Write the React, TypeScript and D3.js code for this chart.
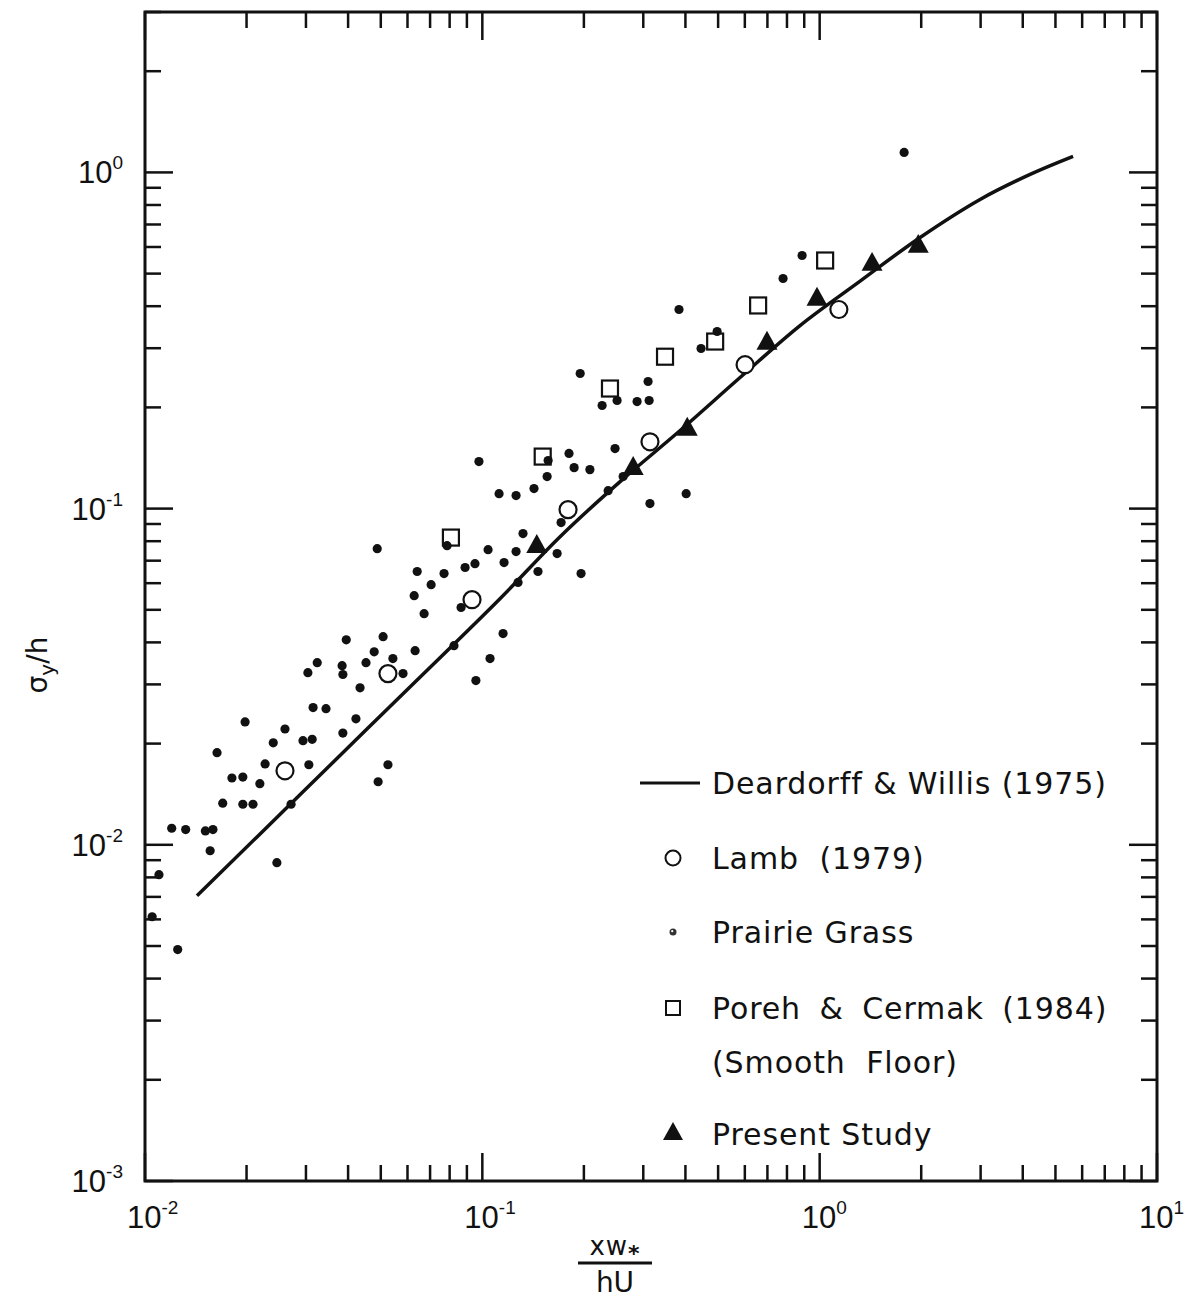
import React from 'react';
import * as d3 from 'd3';

// Deardorff & Willis (1975) curve: [xw*/hU, sigma_y/h]
const deardorffWillis: [number, number][] = [
  [0.01426, 0.00705], [0.0288, 0.01409], [0.057, 0.02757], [0.1128, 0.05395],
  [0.170, 0.0825], [0.2561, 0.1203], [0.3858, 0.1707], [0.5808, 0.2454],
  [0.8746, 0.3504], [1.318, 0.475], [1.985, 0.6405], [2.989, 0.831],
  [4.206, 0.9864], [5.64, 1.116],
];

// Lamb (1979) open circles
const lamb: [number, number][] = [
  [0.026, 0.0166], [0.0525, 0.0323], [0.0932, 0.0536], [0.1795, 0.0993],
  [0.314, 0.158], [0.601, 0.268], [1.14, 0.391],
];

// Poreh & Cermak (1984) squares
const poreh: [number, number][] = [
  [0.0807, 0.082], [0.151, 0.1428], [0.239, 0.2276], [0.348, 0.283],
  [0.49, 0.314], [0.657, 0.402], [1.038, 0.547],
];

// Present Study triangles
const present: [number, number][] = [
  [0.145, 0.0771], [0.28, 0.1315], [0.405, 0.172], [0.698, 0.31],
  [0.982, 0.419], [1.43, 0.532], [1.96, 0.602],
];

// Prairie Grass dots
const prairieGrass: [number, number][] = [
  [0.0324, 0.0348], [0.0304, 0.0325], [0.0384, 0.0341], [0.0386, 0.0321],
  [0.0452, 0.0348], [0.0543, 0.0358], [0.0478, 0.0375], [0.0632, 0.0378],
  [0.0582, 0.0323], [0.0434, 0.0293], [0.0315, 0.0256], [0.0344, 0.0254],
  [0.0422, 0.0237], [0.0198, 0.0232], [0.026, 0.0221], [0.024, 0.0201],
  [0.0294, 0.0204], [0.0313, 0.0206], [0.0386, 0.0215], [0.01635, 0.0188],
  [0.0227, 0.0174], [0.0306, 0.0173], [0.0181, 0.0158], [0.0195, 0.0159],
  [0.0219, 0.0152], [0.0525, 0.0173], [0.0491, 0.0154], [0.017, 0.0133],
  [0.0195, 0.0132], [0.0209, 0.0132], [0.0271, 0.0132], [0.012, 0.0112],
  [0.0132, 0.0111], [0.0151, 0.011], [0.0159, 0.0111], [0.0156, 0.0096],
  [0.0246, 0.00885], [0.011, 0.00815], [0.0105, 0.00611], [0.0125, 0.00488],
  [0.0395, 0.0407], [0.0508, 0.0416], [0.0824, 0.0391], [0.1152, 0.0425],
  [0.1054, 0.0358], [0.0957, 0.0308], [0.0672, 0.0487], [0.0865, 0.0508],
  [0.0628, 0.0551], [0.0705, 0.0594], [0.0641, 0.065], [0.077, 0.0641],
  [0.0488, 0.076], [0.0786, 0.0776], [0.0889, 0.0668], [0.0951, 0.0686],
  [0.104, 0.0755], [0.116, 0.0691], [0.1276, 0.0603], [0.1259, 0.0745],
  [0.132, 0.0843], [0.1462, 0.065], [0.1666, 0.0735], [0.1962, 0.0641],
  [0.1712, 0.0909], [0.0977, 0.138], [0.1121, 0.1108], [0.1259, 0.1093],
  [0.1423, 0.1147], [0.1556, 0.1245], [0.1567, 0.139], [0.1807, 0.1459],
  [0.1871, 0.1324], [0.2084, 0.1306], [0.2474, 0.1509], [0.236, 0.1131],
  [0.2615, 0.1245], [0.314, 0.1035], [0.2265, 0.2026], [0.2509, 0.2097],
  [0.2876, 0.2082], [0.3122, 0.2097], [0.31, 0.2388], [0.195, 0.2523],
  [0.3828, 0.391], [0.445, 0.2994], [0.4966, 0.3364], [0.779, 0.4836],
  [0.887, 0.566], [0.402, 0.1108], [1.78, 1.147],
];

const xDecades = [-2, -1, 0, 1];
const yDecades = [-3, -2, -1, 0];
const legendLabels = [
  'Deardorff & Willis (1975)',
  'Lamb (1979)',
  'Prairie Grass',
  'Poreh & Cermak (1984)',
  '(Smooth Floor)',
  'Present Study',
];
const legendWordSpacing = [0, 10, 0, 8, 10, 0];

const FONT = 'DejaVu Sans, sans-serif';
const TICKFONT = 'Liberation Sans, Arial, sans-serif';

export default function App() {
  const W = 1186, H = 1300;
  const left = 145, right = 1157, top = 12, bottom = 1181;
  const x = d3.scaleLog().domain([1e-2, 1e1]).range([left, right]);
  const y = d3.scaleLog().domain([1e-3, 3]).range([bottom, top]);

  const ticks = (dom: number[], decs: number[]) => {
    const out: { v: number; major: boolean }[] = [];
    for (let e = decs[0]; e <= decs[decs.length - 1]; e++) {
      for (let k = 1; k <= 9; k++) {
        const v = k * Math.pow(10, e);
        if (v >= dom[0] * 0.999 && v <= dom[1] * 1.001) out.push({ v, major: k === 1 });
      }
    }
    return out;
  };
  const xt = ticks(x.domain(), xDecades);
  const yt = ticks(y.domain(), yDecades);
  const MAJ = 28, MIN = 16;

  const line = d3.line<[number, number]>()
    .x((d) => x(d[0]))
    .y((d) => y(d[1]))
    .curve(d3.curveCatmullRom.alpha(0.5));

  const tri = (cx: number, cy: number, s: number) => {
    const h = s * 0.9;
    return `M${cx},${cy - (2 * h) / 3}L${cx + s / 2},${cy + h / 3}L${cx - s / 2},${cy + h / 3}Z`;
  };

  const expLabel = (e: number) => (e < 0 ? '-' + Math.abs(e) : String(e));

  const legX = 673, textX = 712;
  const legY = [783, 858, 932, 1008, 1062, 1134];

  return (
    <svg width={W} height={H} style={{ position: 'absolute', left: 0, top: 0, background: '#fff' }} fontFamily={FONT}>
      <rect x={0} y={0} width={W} height={H} fill="#fff" />
      {/* frame */}
      <rect x={left} y={top} width={right - left} height={bottom - top} fill="none" stroke="#111" strokeWidth={3} />
      {xt.map((t, i) => (
        <g key={'xt' + i} stroke="#111" strokeWidth={2.5}>
          <line x1={x(t.v)} x2={x(t.v)} y1={bottom} y2={bottom - (t.major ? MAJ : MIN)} />
          <line x1={x(t.v)} x2={x(t.v)} y1={top} y2={top + (t.major ? MAJ : MIN)} />
        </g>
      ))}
      {yt.map((t, i) => (
        <g key={'yt' + i} stroke="#111" strokeWidth={2.5}>
          <line y1={y(t.v)} y2={y(t.v)} x1={left} x2={left + (t.major ? MAJ : MIN)} />
          <line y1={y(t.v)} y2={y(t.v)} x1={right} x2={right - (t.major ? MAJ : MIN)} />
        </g>
      ))}
      {/* x tick labels */}
      {xDecades.map((e) => (
        <text key={'xl' + e} x={x(Math.pow(10, e)) - 18} y={1228} fontSize={31} fill="#111" fontFamily={TICKFONT}>
          10<tspan dy={-14} fontSize={19}>{expLabel(e)}</tspan>
        </text>
      ))}
      {yDecades.map((e) => (
        <text key={'yl' + e} x={123} y={y(Math.pow(10, e)) + 11} fontSize={31} fill="#111" textAnchor="end" fontFamily={TICKFONT}>
          10<tspan dy={-14} fontSize={19}>{expLabel(e)}</tspan>
        </text>
      ))}
      {/* axis titles */}
      <text transform="translate(47,665) rotate(-90)" textAnchor="middle" fontSize={28} fill="#111">
        σ<tspan dy={7} fontSize={20}>y</tspan><tspan dy={-7}>/h</tspan>
      </text>
      <text x={615} y={1255} textAnchor="middle" fontSize={26} fill="#111" letterSpacing={1}>
        xw<tspan dy={6} fontSize={22} fontWeight="bold">*</tspan>
      </text>
      <line x1={578} x2={652} y1={1263} y2={1263} stroke="#111" strokeWidth={3} />
      <text x={615} y={1292} textAnchor="middle" fontSize={28} fill="#111">hU</text>

      {/* curve */}
      <path d={line(deardorffWillis) || ''} fill="none" stroke="#111" strokeWidth={3.5} />

      {prairieGrass.map((d, i) => (
        <circle key={'pg' + i} cx={x(d[0])} cy={y(d[1])} r={4.6} fill="#111" />
      ))}
      {lamb.map((d, i) => (
        <circle key={'lb' + i} cx={x(d[0])} cy={y(d[1])} r={8.5} fill="#fff" stroke="#111" strokeWidth={2.2} />
      ))}
      {poreh.map((d, i) => (
        <rect key={'pc' + i} x={x(d[0]) - 8} y={y(d[1]) - 8} width={16} height={16} fill="none" stroke="#111" strokeWidth={2.2} />
      ))}
      {present.map((d, i) => (
        <path key={'ps' + i} d={tri(x(d[0]), y(d[1]), 21)} fill="#111" />
      ))}

      {/* legend */}
      <line x1={640} x2={700} y1={legY[0]} y2={legY[0]} stroke="#111" strokeWidth={3} />
      <circle cx={legX} cy={legY[1]} r={7.5} fill="#fff" stroke="#111" strokeWidth={2} />
      <circle cx={legX} cy={legY[2]} r={3.5} fill="#333" />
      <circle cx={legX - 0.8} cy={legY[2] - 0.8} r={1.1} fill="#fff" />
      <rect x={legX - 7} y={legY[3] - 7} width={14} height={14} fill="none" stroke="#111" strokeWidth={2} />
      <path d={tri(legX, legY[5], 20)} fill="#111" />
      {legendLabels.map((s, i) => (
        <text key={'lg' + i} x={textX} y={legY[i] + 11} fontSize={30} fill="#111" letterSpacing={0.9} wordSpacing={legendWordSpacing[i]}>
          {s}
        </text>
      ))}
    </svg>
  );
}
